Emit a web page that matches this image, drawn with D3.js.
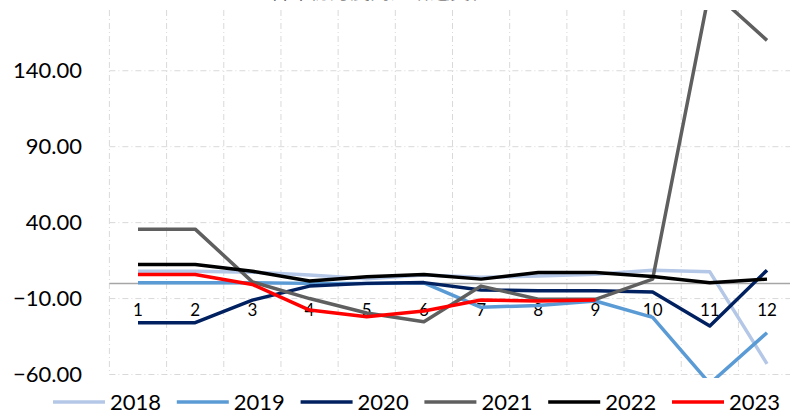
<!DOCTYPE html>
<html>
<head>
<meta charset="utf-8">
<script src="https://cdn.jsdelivr.net/npm/d3@7/dist/d3.min.js"></script>
<style>
  body { margin: 0; background: #fff; }
  svg { display: block; font-family: Lato, "Noto Sans", sans-serif; }
</style>
</head>
<body>
<svg id="chart" width="790" height="414"></svg>
<script>
  // data
  var months = ['1','2','3','4','5','6','7','8','9','10','11','12']
  var years = ['2018','2019','2020','2021','2022','2023']
  var colors = ['#b4c7e7','#5b9bd5','#002060','#5f5f5f','#000000','#ff0000']
  var yTicks = [-60, -10, 40, 90, 140]

  var s2018 = [8, 8, 7.4, 5.5, 3, 5.5, 4, 4.8, 6, 8.7, 7.6, -53]
  var s2019 = [0.4, 0.4, 0.4, 0, 0, 0.4, -15.8, -14.5, -11.6, -22.4, -66, -32.5]
  var s2020 = [-25.9, -25.9, -11, -1.8, 0, 0.5, -4.4, -4.8, -4.8, -5.7, -28, 8.7]
  var s2021 = [35.7, 35.7, 1, -10, -19.5, -25.3, -1.8, -10.5, -10.5, 2.8, 194, 160]
  var s2022 = [12.5, 12.5, 8, 1.5, 4.3, 5.9, 2.8, 7.2, 7.2, 4.6, 0.4, 2.8]
  var s2023 = [5.9, 5.9, -0.7, -17.6, -22, -18.2, -11, -11.6, -11]
  var series = [s2018, s2019, s2020, s2021, s2022, s2023]

  var svg = d3.select('#chart')
  var plotLeft = 109.4, plotRight = 795.6, plotTop = 10, plotBottom = 374.5

  var x = d3.scaleBand().domain(months).range([plotLeft, plotRight]).paddingInner(0).paddingOuter(0)
  var y = d3.scaleLinear().domain([-60, 180]).range([plotBottom, plotTop])

  // title (mostly above the visible area)
  svg.append('text')
     .attr('x', 380).attr('y', -1.5)
     .attr('text-anchor', 'middle')
     .style('font-family', '"Noto Sans CJK SC", sans-serif')
     .style('font-size', '20px')
     .style('fill', '#404040')
     .text('各年份月度同比增速变化')

  // grid
  var dash = '6,3,1,3'
  svg.append('g').selectAll('line')
     .data(yTicks)
     .enter().append('line')
     .attr('x1', plotLeft).attr('x2', 790)
     .attr('y1', function(d){ return y(d) }).attr('y2', function(d){ return y(d) })
     .style('stroke', '#d9d9d9').style('stroke-width', 1).style('stroke-dasharray', dash)

  var vgrid = d3.range(months.length + 1).map(function(i){ return plotLeft + i * x.bandwidth() })
  svg.append('g').selectAll('line')
     .data(vgrid)
     .enter().append('line')
     .attr('x1', function(d){ return d }).attr('x2', function(d){ return d })
     .attr('y1', plotTop).attr('y2', plotBottom)
     .style('stroke', '#d9d9d9').style('stroke-width', 1).style('stroke-dasharray', dash)

  // zero axis line
  svg.append('line')
     .attr('x1', plotLeft).attr('x2', 790)
     .attr('y1', y(0)).attr('y2', y(0))
     .style('stroke', '#a6a6a6').style('stroke-width', 1.5)

  // y axis labels
  var yAxis = d3.axisLeft(y).tickValues(yTicks).tickSize(0).tickPadding(0)
                .tickFormat(d3.format('.2f'))
  var ya = svg.append('g').attr('transform', 'translate(82,0)').call(yAxis)
  ya.select('.domain').remove()
  ya.selectAll('text')
    .style('font-family', 'Lato, sans-serif')
    .style('font-size', '22px')
    .style('fill', '#000')

  // x labels sit just under the zero line
  var xAxis = d3.axisBottom(x).tickSize(0).tickPadding(0)
  var xa = svg.append('g').attr('transform', 'translate(0,' + y(0) + ')').call(xAxis)
  xa.select('.domain').remove()
  xa.selectAll('text')
    .attr('dy', 0)
    .attr('y', 33)
    .style('font-family', 'Lato, sans-serif')
    .style('font-size', '17px')
    .style('fill', '#000')

  // lines
  svg.append('clipPath').attr('id', 'plot')
     .append('rect').attr('x', plotLeft).attr('y', plotTop).attr('width', 790 - plotLeft).attr('height', 378 - plotTop)

  var line = d3.line()
    .x(function(d, i){ return x(months[i]) + x.bandwidth() / 2 })
    .y(function(d){ return y(d) })

  svg.append('g').attr('clip-path', 'url(#plot)')
     .selectAll('path')
     .data(series)
     .enter().append('path')
     .attr('d', line)
     .style('fill', 'none')
     .style('stroke', function(d, i){ return colors[i] })
     .style('stroke-width', 3.5)
     .style('stroke-linejoin', 'round')

  // legend
  var lg = svg.append('g').selectAll('g')
     .data(years)
     .enter().append('g')
     .attr('transform', function(d, i){ return 'translate(' + (53 + i * 123.8) + ',402)' })
  lg.append('line')
    .attr('x1', 0).attr('x2', 52).attr('y1', 0).attr('y2', 0)
    .style('stroke', function(d, i){ return colors[i] })
    .style('stroke-width', 3.5)
  lg.append('text')
    .attr('x', 57).attr('y', 8)
    .style('font-size', '22px')
    .style('fill', '#000')
    .text(function(d){ return d })
</script>
</body>
</html>
